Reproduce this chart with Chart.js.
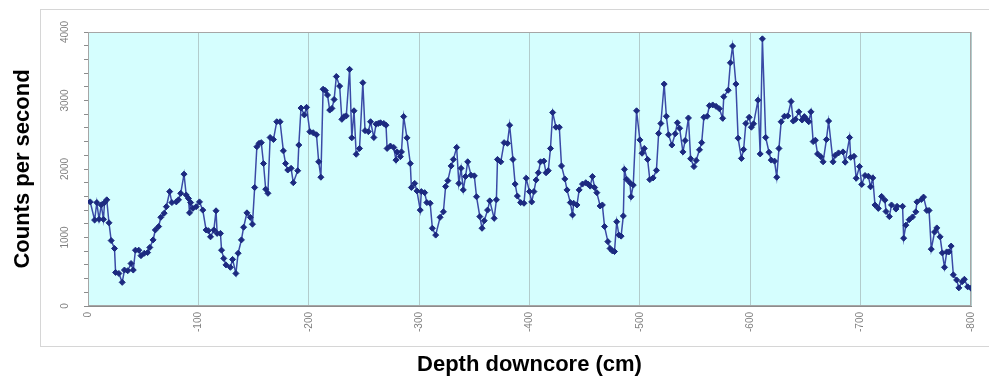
<!DOCTYPE html>
<html>
<head>
<meta charset="utf-8">
<script src="https://cdn.jsdelivr.net/npm/chart.js@4.4.1/dist/chart.umd.min.js"></script>
<style>
  html, body { margin: 0; padding: 0; background: #fff; }
  canvas { display: block; }
</style>
</head>
<body>
<canvas id="coreChart" width="989" height="380"></canvas>
<script>
// depth below the core top (cm) and the counts read at that depth
const depths = [2, 6, 8, 10, 12, 14, 15, 17, 19, 21, 24, 25, 28, 31, 33, 36, 39, 41, 43, 46,
  48, 51, 54, 56, 59, 61, 64, 66, 69, 71, 74, 76, 80, 82, 84, 87, 89, 91, 92, 93,
  95, 98, 101, 104, 107, 109, 111, 114, 116, 117, 120, 121, 123, 125, 129, 131, 134, 136, 139, 141,
  144, 147, 149, 151, 153, 155, 157, 159, 161, 163, 165, 168, 171, 174, 177, 179, 181, 184, 186, 190,
  191, 193, 196, 198, 201, 204, 207, 209, 211, 213, 215, 217, 219, 221, 223, 225, 228, 230, 232, 234,
  237, 239, 241, 243, 246, 249, 251, 254, 256, 259, 261, 263, 265, 268, 270, 271, 274, 277, 279, 280,
  283, 284, 286, 289, 292, 293, 296, 298, 301, 302, 305, 307, 310, 312, 315, 319, 322, 324, 326, 329,
  331, 334, 336, 338, 340, 342, 344, 347, 350, 352, 355, 357, 359, 362, 364, 368, 370, 371, 374, 377,
  380, 382, 385, 387, 389, 392, 395, 397, 400, 402, 404, 406, 408, 410, 413, 415, 417, 419, 421, 424,
  427, 429, 432, 434, 437, 439, 440, 443, 445, 448, 451, 453, 455, 457, 459, 461, 464, 466, 468, 471,
  473, 475, 477, 479, 481, 483, 485, 486, 488, 491, 492, 494, 497, 500, 502, 504, 507, 509, 512, 515,
  517, 519, 522, 524, 526, 529, 532, 534, 536, 539, 541, 544, 546, 549, 551, 554, 556, 558, 561, 563,
  566, 569, 572, 575, 576, 580, 582, 584, 587, 589, 592, 594, 596, 599, 601, 603, 607, 609, 611, 614,
  617, 619, 622, 624, 626, 628, 631, 634, 637, 639, 641, 644, 647, 649, 651, 653, 655, 657, 659, 661,
  664, 666, 669, 671, 675, 677, 680, 684, 686, 690, 691, 694, 696, 699, 701, 704, 707, 709, 711, 713,
  716, 719, 722, 723, 726, 728, 732, 733, 738, 739, 741, 744, 747, 750, 751, 755, 757, 760, 762, 764,
  767, 769, 772, 774, 776, 778, 780, 782, 784, 787, 789, 792, 794, 797, 800];

const counts = [1520, 1255, 1510, 1265, 1475, 1265, 1510, 1550, 1215, 955, 840, 490, 475, 345, 525, 515, 620, 525, 815, 815,
  735, 770, 780, 855, 965, 1110, 1160, 1295, 1355, 1450, 1670, 1510, 1520, 1550, 1645, 1925, 1620, 1570, 1360, 1510,
  1425, 1450, 1520, 1400, 1110, 1100, 1010, 1110, 1390, 1060, 1060, 815, 695, 600, 565, 680, 475, 770, 965, 1150,
  1360, 1295, 1195, 1730, 2325, 2375, 2385, 2080, 1705, 1645, 2460, 2430, 2690, 2690, 2265, 2080, 1985, 2010, 1800, 1975,
  2350, 2890, 2790, 2900, 2545, 2530, 2500, 2105, 1880, 3165, 3145, 3080, 2860, 2885, 3015, 3350, 3210, 2725, 2765, 2775,
  3455, 2455, 2850, 2215, 2300, 3260, 2560, 2545, 2690, 2460, 2655, 2665, 2675, 2665, 2640, 2300, 2335, 2315, 2130, 2250,
  2180, 2250, 2765, 2455, 2080, 1730, 1790, 1680, 1400, 1670, 1655, 1510, 1500, 1135, 1035, 1295, 1375, 1745, 1830, 2045,
  2140, 2315, 1790, 2010, 1695, 1890, 2105, 1910, 1900, 1595, 1305, 1135, 1245, 1400, 1535, 1280, 1550, 2140, 2105, 2385,
  2375, 2640, 2140, 1780, 1605, 1510, 1500, 1865, 1670, 1520, 1670, 1840, 1945, 2105, 2115, 1945, 1975, 2300, 2825, 2610,
  2610, 2045, 1855, 1695, 1510, 1330, 1500, 1475, 1695, 1780, 1800, 1780, 1750, 1890, 1730, 1655, 1460, 1475, 1160, 940,
  840, 805, 795, 1230, 1035, 1020, 1315, 1995, 1850, 1800, 1595, 1765, 2850, 2425, 2230, 2300, 2140, 1845, 1870, 1980,
  2520, 2665, 3240, 2770, 2500, 2350, 2515, 2675, 2595, 2250, 2415, 2745, 2150, 2035, 2125, 2280, 2385, 2755, 2770, 2925,
  2935, 2915, 2880, 2740, 3055, 3150, 3550, 3795, 3240, 2450, 2155, 2285, 2665, 2755, 2610, 2660, 3005, 2220, 3900, 2460,
  2245, 2130, 2115, 1880, 2300, 2690, 2770, 2775, 2985, 2700, 2725, 2835, 2715, 2765, 2725, 2690, 2835, 2400, 2420, 2220,
  2180, 2105, 2430, 2700, 2105, 2200, 2235, 2250, 2100, 2460, 2170, 2185, 1865, 2035, 1775, 1905, 1895, 1740, 1870, 1475,
  1425, 1600, 1545, 1380, 1305, 1475, 1415, 1455, 1455, 990, 1180, 1260, 1300, 1375, 1520, 1555, 1590, 1395, 1395, 830,
  1080, 1140, 1010, 775, 565, 790, 790, 875, 455, 380, 265, 355, 390, 280, 260];

// outer frame, cyan plot area and its border
const framePlugin = {
  id: 'frame',
  beforeDraw(chart) {
    const { ctx, chartArea: a } = chart;
    ctx.save();
    ctx.fillStyle = '#ffffff';
    ctx.fillRect(0, 0, chart.width, chart.height);
    ctx.strokeStyle = '#d6d6d6';
    ctx.lineWidth = 1;
    ctx.strokeRect(40.5, 9.5, 960, 337);
    ctx.fillStyle = '#d5fefe';
    ctx.fillRect(a.left, a.top, a.right - a.left, a.bottom - a.top);
    ctx.restore();
  },
  beforeDatasetsDraw(chart) {
    const { ctx, chartArea: a } = chart;
    ctx.save();
    ctx.strokeStyle = '#a6a6a6';
    ctx.lineWidth = 1;
    ctx.strokeRect(a.left + 0.5, a.top + 0.5, a.right - a.left - 1, a.bottom - a.top - 1);
    ctx.restore();
  }
};

const ctx = document.getElementById('coreChart').getContext('2d');
const coreChart = new Chart(ctx, {
  type: 'line',
  data: {
    datasets: [{
      data: depths.map((d, i) => ({ x: -d, y: counts[i] })),
      borderColor: '#3a4aa6',
      borderWidth: 1.5,
      pointStyle: 'rectRot',
      pointRadius: 3,
      pointBackgroundColor: '#1c2a80',
      pointBorderColor: '#1c2a80',
      pointBorderWidth: 1,
      tension: 0
    }]
  },
  options: {
    responsive: false,
    animation: false,
    devicePixelRatio: 1,
    layout: { padding: { left: 0, right: 13, top: 32, bottom: 0 } },
    plugins: {
      legend: { display: false },
      tooltip: { enabled: false }
    },
    scales: {
      x: {
        type: 'linear',
        min: -800,
        max: 0,
        reverse: true,
        afterFit: s => { s.height = 74; },
        ticks: {
          stepSize: 100,
          minRotation: 90,
          maxRotation: 90,
          padding: 6,
          color: '#808080',
          font: { family: 'Liberation Sans', size: 10 }
        },
        grid: { color: '#b2cccc', drawTicks: false },
        border: { color: '#8c8c8c' },
        title: {
          display: true,
          text: 'Depth downcore (cm)',
          color: '#000',
          font: { family: 'Liberation Sans', size: 22, weight: 'bold' },
          padding: { top: 0, bottom: 2 }
        }
      },
      y: {
        min: 0,
        max: 4000,
        afterFit: s => { s.width = 88; },
        ticks: {
          stepSize: 200,
          autoSkip: false,
          minRotation: 90,
          maxRotation: 90,
          crossAlign: 'center',
          padding: 8,
          color: '#808080',
          font: { family: 'Liberation Sans', size: 10 },
          callback: v => (v % 1000 === 0 ? v : '')
        },
        grid: { drawOnChartArea: false, tickLength: 4, color: '#8c8c8c' },
        border: { color: '#8c8c8c' },
        title: {
          display: true,
          text: 'Counts per second',
          color: '#000',
          font: { family: 'Liberation Sans', size: 22, weight: 'bold' },
          padding: { top: 10, bottom: 0 }
        }
      }
    }
  },
  plugins: [framePlugin]
});
</script>
</body>
</html>
